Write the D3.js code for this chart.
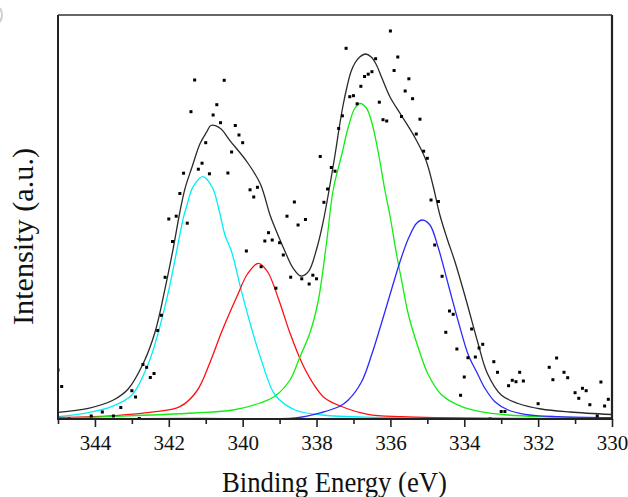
<!DOCTYPE html>
<html><head><meta charset="utf-8">
<script src="https://cdn.jsdelivr.net/npm/d3@7/dist/d3.min.js"></script>
<style>body{margin:0;background:#fff}svg{display:block}</style>
</head><body>
<svg id="chart" width="628" height="497"></svg>
<script>
// Binding energy (eV) and intensity (a.u.)
const rawPoints = [
 [345.0,49],[344.9,32.5],[344.7,0],[344.1,3],[343.8,7],[343.5,3],[343.3,11.5],[343.0,28.3],
 [342.9,22],[342.8,0.5],[342.7,54.5],[342.6,51.7],[342.5,41.5],[342.4,45.5],[342.3,88.5],
 [342.2,103.7],[342.1,141.7],[342.0,200],[341.9,177.5],[341.8,202.8],[341.7,225.5],
 [341.6,245.8],[341.5,195.8],[341.4,307.3],[341.3,339],[341.2,249.8],[341.1,255.8],
 [341.0,276.3],[340.9,245.2],[340.8,304],[340.7,314.3],[340.6,296.3],[340.5,338.7],
 [340.4,246],[340.3,267],[340.2,293.5],[340.1,284],[340.0,276.3],[339.9,168],[339.8,229.2],
 [339.7,222],[339.6,231.7],[339.5,152.3],[339.4,178],[339.3,186.3],[339.2,179],[339.1,130.8],
 [339.0,176.3],[338.9,164],[338.8,202.8],[338.7,141.8],[338.6,217],[338.5,194],[338.4,140.2],
 [338.3,199.5],[338.2,135],[338.1,143.8],[338.0,140.2],[337.9,262.5],[337.8,216.7],
 [337.7,230],[337.6,251.5],[337.5,247.8],[337.4,290.5],[337.3,303.2],[337.2,370.7],
 [337.1,322.3],[337.0,323.3],[336.9,315.2],[336.8,332.7],[336.7,342.5],[336.6,344.8],
 [336.5,347.3],[336.4,360.3],[336.3,316.8],[336.2,299.3],[336.1,298],[336.0,388],
 [335.9,348.5],[335.8,362],[335.7,302.5],[335.6,328],[335.5,340.2],[335.4,320.3],
 [335.3,285],[335.2,299.8],[335.1,267.8],[335.0,260.7],[334.9,219],[334.8,174],
 [334.7,217.5],[334.6,142.7],[334.5,86.7],[334.4,108],[334.3,104.7],[334.2,70],
 [334.1,23.7],[334.0,42],[333.9,61.3],[333.8,90],[333.7,62],[333.6,71],[333.5,74.7],
 [333.3,0],[333.2,57.3],[333.1,46.7],[333.0,7.5],[332.9,7.5],[332.8,33.3],[332.7,38.7],
 [332.6,37.3],[332.5,46.7],[332.4,38],[332.0,15.3],[331.7,51.7],[331.6,39.3],[331.5,61],
 [331.3,46.7],[331.2,41.3],[331.0,26.3],[330.9,20.7],[330.8,30.7],[330.7,28.3],
 [330.6,14.3],[330.4,3],[330.3,37],[330.2,13],[330.1,19.7]
];
const envelope = [
 [345.0,6.7],[344.18,10.7],[343.5,19],[343.1,30],[342.69,55.7],[342.37,87.3],[342.1,130.7],
 [341.88,170.7],[341.7,207],[341.56,230.7],[341.38,251],[341.15,275.7],[340.97,287.3],
 [340.86,293.5],[340.61,290.7],[340.34,278.2],[339.87,256.5],[339.52,235],[339.26,204],
 [339.12,190.7],[338.85,167.3],[338.63,150.7],[338.42,143],[338.22,147.3],[337.99,171],
 [337.82,197.3],[337.5,264],[337.39,290.5],[337.28,314],[337.17,333],[337.07,347],
 [336.96,356],[336.83,362],[336.67,365],[336.52,362],[336.39,355],[336.23,341],[336.01,322],
 [335.71,304],[335.33,281],[335.04,259],[334.85,234],[334.66,204],[334.47,181],[334.25,157],
 [333.95,119],[333.63,76],[333.38,46],[333.0,24],[332.54,15.5],[331.92,10],[331.14,7],[330.0,4.5]
];
const peakCyan = [
 [345.0,2.3],[344.18,6.3],[343.55,12.3],[343.0,24],[342.55,55.7],[342.28,87.3],[342.01,127.3],
 [341.79,167.3],[341.61,200.7],[341.52,212.3],[341.34,232.3],[341.08,242.3],[340.82,231.5],
 [340.64,209],[340.48,184],[340.3,167.3],[340.03,127.3],[339.76,90.7],[339.48,57.3],
 [339.12,24],[338.58,9],[337.86,4],[336.28,1.5],[333.57,0.3],[330.0,0]
];
const peakRed = [
 [345.0,1.5],[344.05,2.3],[342.51,6.7],[341.7,12.3],[341.24,28],[340.88,57],[340.56,88],
 [340.15,123],[339.87,145],[339.58,155.7],[339.33,147.5],[339.02,119],[338.72,86],
 [338.37,54],[338.01,31],[337.77,20.7],[337.36,13],[336.61,4.7],[335.69,2.3],[334.79,1.3],[330.0,0]
];
const peakGreen = [
 [345.0,0.5],[342.51,4],[341.29,6],[340.26,9],[339.53,16],[339.12,23],[338.72,39],[338.45,62],
 [338.18,86],[337.96,117],[337.72,179],[337.55,229],[337.32,264],[337.14,292],[336.96,311],
 [336.82,315.5],[336.65,311],[336.5,296],[336.33,267],[336.15,229],[336.01,203],[335.83,164],
 [335.69,137.3],[335.51,104],[335.24,70.7],[334.97,44],[334.61,24],[334.07,12.3],[333.57,7.3],
 [332.81,4],[331.9,2.3],[330.0,0.7]
];
const peakBlue = [
 [345.0,0],[341.16,0.5],[338.58,1],[337.86,6.5],[337.36,13],[337.14,19],[336.78,37.3],
 [336.51,64],[336.23,97.3],[335.96,130.7],[335.74,157.3],[335.51,180.7],[335.29,195.7],
 [335.13,199],[334.93,194],[334.7,170.7],[334.43,134],[334.16,97.3],[333.89,64],[333.65,46],
 [333.44,30.7],[333.17,17.3],[332.81,9],[332.36,4.7],[331.45,2.3],[330.0,1.3]
];
const majorTicks = [344,342,340,338,336,334,332,330];
const minorTicks = [345,343,341,339,337,335,333,331];
const xTitle = "Binding Energy (eV)";
const yTitle = "Intensity (a.u.)";

const W = 628, H = 497;
const m = {left:58, top:15, right:16, bottom:78};
const pw = W - m.left - m.right, ph = H - m.top - m.bottom;
const svg = d3.select("#chart");
const x = d3.scaleLinear().domain([345,330]).range([m.left, m.left+pw]);
const y = d3.scaleLinear().domain([0,404]).range([m.top+ph, m.top]);

svg.append("defs").append("clipPath").attr("id","clip")
  .append("rect").attr("x",m.left).attr("y",m.top).attr("width",pw).attr("height",ph);

const line = d3.line().x(d=>x(d[0])).y(d=>y(d[1])).curve(d3.curveCatmullRom.alpha(0.5));
const g = svg.append("g").attr("clip-path","url(#clip)");
const series = [
  {d:peakCyan, c:"#00eef5"},
  {d:peakRed, c:"#ff1010"},
  {d:peakGreen, c:"#10ee10"},
  {d:peakBlue, c:"#2a2aff"},
  {d:envelope, c:"#2a2a2a"}
];
series.forEach(s=>{
  g.append("path").attr("d", line(s.d)).attr("fill","none")
   .attr("stroke", s.c).attr("stroke-width",1.3);
});
g.selectAll("rect.pt").data(rawPoints).join("rect").attr("class","pt")
  .attr("x", d=>x(d[0])-1.5).attr("y", d=>y(d[1])-1.5)
  .attr("width",3).attr("height",3).attr("fill","#000");

// axes
const axMinor = d3.axisBottom(x).tickValues(minorTicks).tickSize(5).tickFormat("");
const axMajor = d3.axisBottom(x).tickValues(majorTicks).tickSize(8).tickPadding(8).tickFormat(d3.format("d"));
const gm = svg.append("g").attr("transform",`translate(0,${m.top+ph})`).call(axMinor);
const gM = svg.append("g").attr("transform",`translate(0,${m.top+ph})`).call(axMajor);
[gm,gM].forEach(a=>{
  a.select(".domain").remove();
  a.selectAll(".tick line").attr("stroke","#222").attr("stroke-width",1.6);
});
gM.selectAll(".tick text").attr("font-family","'Liberation Serif','Times New Roman',serif")
  .attr("font-size",21).attr("fill","#111");

// frame
const fr = svg.append("g").attr("stroke","#222").attr("fill","none");
fr.append("line").attr("x1",m.left).attr("x2",m.left).attr("y1",m.top).attr("y2",m.top+ph+1).attr("stroke-width",2);
fr.append("line").attr("x1",m.left-1).attr("x2",m.left+pw+1).attr("y1",m.top+ph).attr("y2",m.top+ph).attr("stroke-width",2);
fr.append("line").attr("x1",m.left+pw).attr("x2",m.left+pw).attr("y1",m.top).attr("y2",m.top+ph+1).attr("stroke-width",2.2);
fr.append("line").attr("x1",m.left).attr("x2",m.left+pw).attr("y1",m.top).attr("y2",m.top).attr("stroke-width",1.6).attr("stroke","#333");

// titles
svg.append("text").attr("x",222).attr("y",491.5)
  .attr("font-family","'Liberation Serif','Times New Roman',serif").attr("font-size",29)
  .attr("textLength",225).attr("lengthAdjust","spacingAndGlyphs")
  .attr("fill","#111").text(xTitle);
svg.append("text").attr("transform","translate(33,325) rotate(-90)")
  .attr("font-family","'Liberation Serif','Times New Roman',serif").attr("font-size",30)
  .attr("textLength",177).attr("lengthAdjust","spacingAndGlyphs")
  .attr("fill","#111").text(yTitle);
// faint cropped mark at the top-left corner of the reference image
svg.append("path").attr("d","M0,8 Q4,15 0,22").attr("fill","none")
  .attr("stroke","#cfcfcf").attr("stroke-width",2);
</script>
</body></html>
